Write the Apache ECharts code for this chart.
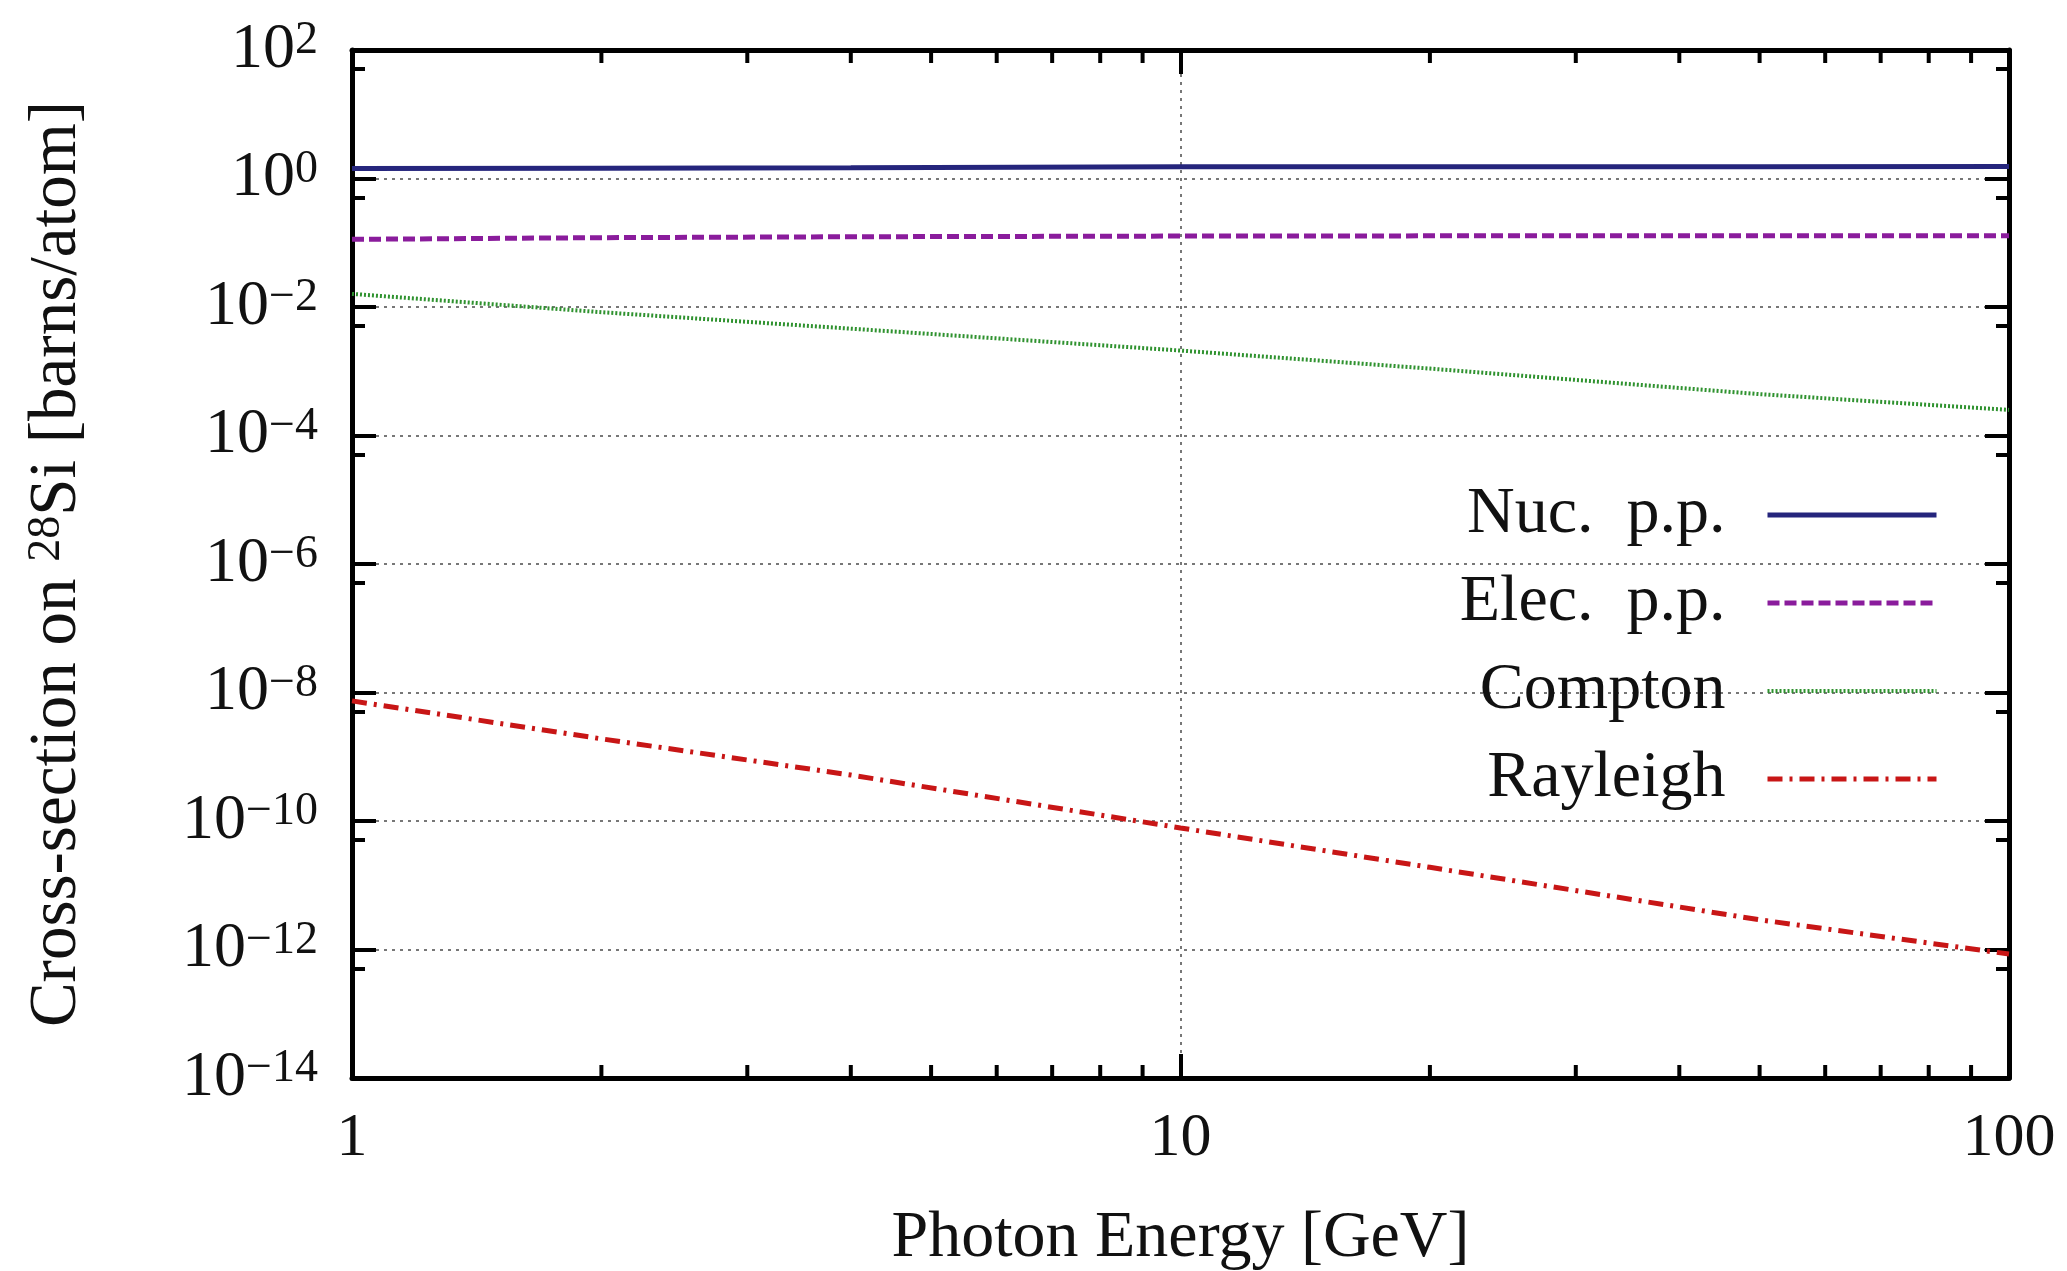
<!DOCTYPE html>
<html>
<head>
<meta charset="utf-8">
<title>Photon cross-sections on 28Si</title>
<script src="https://cdn.jsdelivr.net/npm/echarts@6/dist/echarts.min.js"></script>
<style>
  html, body { margin: 0; padding: 0; background: #fff; }
  #chart { width: 2067px; height: 1271px; }
</style>
</head>
<body>
<div id="chart"></div>
<script>
// Photon energies [GeV] at which the cross-sections were read
const energies = [1, 2, 4, 10, 20, 50, 100];

// Cross-sections on 28Si [barns/atom]
const nucPP    = [1.43, 1.45, 1.47, 1.52, 1.52, 1.52, 1.54];
const elecPP   = [0.113, 0.12, 0.124, 0.127, 0.128, 0.128, 0.128];
const compton  = [1.6e-2, 8.3e-3, 4.6e-3, 2.1e-3, 1.1e-3, 4.4e-4, 2.5e-4];
const rayleigh = [7.4e-9, 1.9e-9, 5.2e-10, 7.8e-11, 1.9e-11, 2.9e-12, 8.5e-13];

const seriesNames = ['Nuc.  p.p.', 'Elec.  p.p.', 'Compton', 'Rayleigh'];

// Minor ticks of the logarithmic energy axis
const xMinorTicks = [2, 3, 4, 5, 6, 7, 8, 9, 20, 30, 40, 50, 60, 70, 80, 90];

const Y_MIN = 1e-14, Y_MAX = 1e2;
const X_MIN = 1, X_MAX = 100;

const FONT = '"Liberation Serif", "DejaVu Serif", serif';
const INK = '#111';

const STYLES = [
  { color: '#25257c', width: 5, type: 'solid' },
  { color: '#8a1c9c', width: 5, type: [12, 5] },
  { color: '#2f922f', width: 4, type: [2, 2] },
  { color: '#c81616', width: 5, type: [15, 7, 3, 7] }
];

function pairs(ys) { return energies.map((x, i) => [x, ys[i]]); }

function powerLabel(v) {
  const e = Math.round(Math.log10(v));
  const exp = e < 0 ? '\u2212' + (-e) : String(e);
  return '{b|10}{s|' + exp + '}';
}

const labelRich = {
  b: { fontFamily: FONT, fontSize: 64, lineHeight: 64, color: INK },
  s: { fontFamily: FONT, fontSize: 46, lineHeight: 20, verticalAlign: 'top', color: INK }
};

const frameLine = { show: true, onZero: false, lineStyle: { color: '#000', width: 5 } };
const majorTick = { show: true, inside: true, length: 24, lineStyle: { color: '#000', width: 4 } };
const minorTickY = { show: true, splitNumber: 2, length: 13, lineStyle: { color: '#000', width: 4 } };
const gridDots = { show: true, lineStyle: { color: '#777', width: 2, type: [3, 5] } };

const lineSeries = [nucPP, elecPP, compton, rayleigh].map((ys, i) => ({
  name: seriesNames[i], type: 'line', data: pairs(ys),
  showSymbol: false, symbol: 'none',
  lineStyle: { color: STYLES[i].color, width: STYLES[i].width, type: STYLES[i].type },
  itemStyle: { color: STYLES[i].color }
}));

const chart = echarts.init(document.getElementById('chart'));

chart.setOption({
  backgroundColor: '#fff',
  animation: false,
  grid: { left: 352, right: 58, top: 50, bottom: 193, outerBoundsMode: 'none' },
  legend: {
    orient: 'vertical',
    right: 123,
    top: 477,
    align: 'right',
    itemWidth: 169,
    itemHeight: 20,
    itemGap: 22,
    itemStyle: { opacity: 0, borderWidth: 0 },
    textStyle: {
      fontFamily: FONT, fontSize: 66, lineHeight: 64, color: INK,
      padding: [0, 37, 0, 0]
    },
    data: seriesNames.map((n, i) => ({
      name: n,
      itemStyle: { opacity: 0 },
      lineStyle: { color: STYLES[i].color, width: STYLES[i].width, type: STYLES[i].type }
    }))
  },
  xAxis: [
    {
      type: 'log', logBase: 10, min: X_MIN, max: X_MAX, interval: 1,
      position: 'bottom',
      axisLine: frameLine, axisTick: majorTick,
      axisLabel: { fontFamily: FONT, fontSize: 62, color: INK, margin: 30 },
      splitLine: gridDots,
      name: 'Photon Energy [GeV]', nameLocation: 'middle', nameGap: 128,
      nameTextStyle: { fontFamily: FONT, fontSize: 66, color: INK }
    },
    {
      type: 'log', logBase: 10, min: X_MIN, max: X_MAX, interval: 1,
      position: 'top',
      axisLine: frameLine, axisTick: majorTick,
      axisLabel: { show: false }, splitLine: { show: false }
    }
  ],
  yAxis: [
    {
      type: 'log', logBase: 10, min: Y_MIN, max: Y_MAX, interval: 2,
      position: 'left',
      axisLine: frameLine, axisTick: majorTick, minorTick: minorTickY,
      axisLabel: { formatter: powerLabel, rich: labelRich, margin: 34 },
      splitLine: gridDots,
      name: '{t|Cross-section on }{s|28}{t|Si [barns/atom]}',
      nameLocation: 'middle', nameRotate: 90, nameGap: 262,
      nameTextStyle: {
        rich: {
          t: { fontFamily: FONT, fontSize: 67, lineHeight: 66, color: INK },
          s: { fontFamily: FONT, fontSize: 46, lineHeight: 24, verticalAlign: 'top', color: INK }
        }
      }
    },
    {
      type: 'log', logBase: 10, min: Y_MIN, max: Y_MAX, interval: 2,
      position: 'right',
      axisLine: frameLine, axisTick: majorTick, minorTick: minorTickY,
      axisLabel: { show: false }, splitLine: { show: false }
    }
  ],
  series: lineSeries.concat([
    {
      // minor ticks on the bottom and top energy axes
      name: 'xMinor', type: 'custom', silent: true, clip: false,
      data: xMinorTicks.map(v => [v, 1]),
      encode: { x: 0, y: 1 },
      renderItem: function (params, api) {
        const v = api.value(0);
        const b = api.coord([v, Y_MIN]);
        const t = api.coord([v, Y_MAX]);
        const st = { stroke: '#000', lineWidth: 4 };
        return {
          type: 'group',
          children: [
            { type: 'line', shape: { x1: b[0], y1: b[1], x2: b[0], y2: b[1] - 13 }, style: st },
            { type: 'line', shape: { x1: t[0], y1: t[1], x2: t[0], y2: t[1] + 13 }, style: st }
          ]
        };
      }
    }
  ])
});
</script>
</body>
</html>
